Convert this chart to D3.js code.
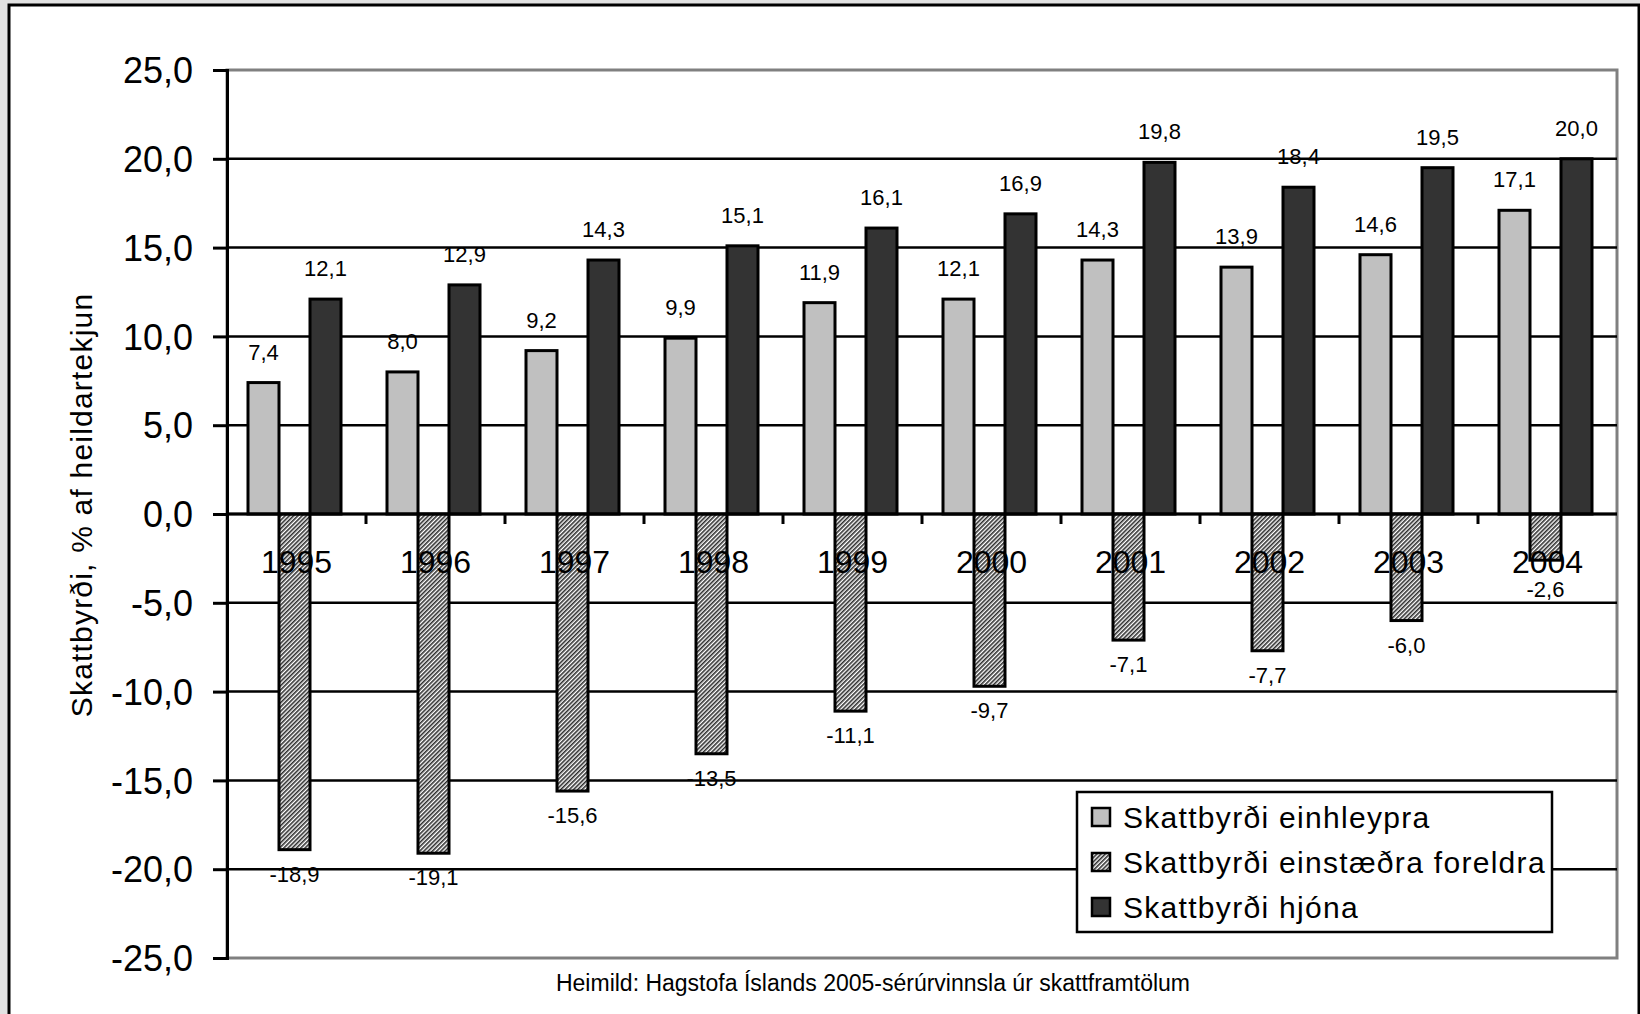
<!DOCTYPE html>
<html><head><meta charset="utf-8">
<script src="https://cdn.jsdelivr.net/npm/d3@7"></script>
<style>
html,body{margin:0;padding:0;background:#e2e2e2;overflow:hidden;}
svg{display:block;font-family:"Liberation Sans",Arial,sans-serif;}
</style></head><body>
<svg id="c" width="1640" height="1014"></svg>
<script>
const years = ["1995","1996","1997","1998","1999","2000","2001","2002","2003","2004"];
const seriesNames = ["Skattbyrði einhleypra","Skattbyrði einstæðra foreldra","Skattbyrði hjóna"];
const einhleypra = [7.4, 8.0, 9.2, 9.9, 11.9, 12.1, 14.3, 13.9, 14.6, 17.1];
const einstaedra = [-18.9, -19.1, -15.6, -13.5, -11.1, -9.7, -7.1, -7.7, -6.0, -2.6];
const hjona = [12.1, 12.9, 14.3, 15.1, 16.1, 16.9, 19.8, 18.4, 19.5, 20.0];
const yTicks = [25, 20, 15, 10, 5, 0, -5, -10, -15, -20, -25];
const yTitle = "Skattbyrði, % af heildartekjun";
const source = "Heimild: Hagstofa Íslands 2005-sérúrvinnsla úr skattframtölum";

const loc = d3.formatLocale({decimal:",", thousands:".", grouping:[3], currency:["",""], minus:"-"});
const f1 = loc.format(".1f");

const svg = d3.select("#c");
const defs = svg.append("defs");
const pat = defs.append("pattern").attr("id","hatch").attr("patternUnits","userSpaceOnUse")
  .attr("width",3).attr("height",3).attr("patternTransform","rotate(45)");
pat.append("rect").attr("width",3).attr("height",3).attr("fill","#ffffff");
pat.append("rect").attr("width",1.6).attr("height",3).attr("fill","#2e2e2e");

// outer frame
svg.append("rect").attr("x",9).attr("y",5).attr("width",1630).attr("height",1030)
  .attr("fill","#fff").attr("stroke","#000").attr("stroke-width",3);

const L=227, R=1617, T=70, B=958;
const y = d3.scaleLinear().domain([-25,25]).range([B,T]);
const x0 = d3.scaleBand().domain(years).range([L,R]).padding(0);
const x1 = d3.scaleBand().domain([0,1,2]).range([21,114]).padding(0);

// plot border (gray)
svg.append("rect").attr("x",L).attr("y",T).attr("width",R-L).attr("height",B-T)
  .attr("fill","none").attr("stroke","#808080").attr("stroke-width",3);

// gridlines
svg.append("g").selectAll("line").data(yTicks.filter(v=>v!==25 && v!==-25)).join("line")
  .attr("x1",L).attr("x2",R).attr("y1",d=>y(d)).attr("y2",d=>y(d))
  .attr("stroke","#000").attr("stroke-width",2.5);

// y axis
const yAxis = d3.axisLeft(y).tickValues(yTicks).tickFormat(f1).tickSize(14).tickPadding(20);
const ga = svg.append("g").attr("transform",`translate(${L},0)`).call(yAxis);
ga.select(".domain").attr("stroke","#000").attr("stroke-width",3);
ga.selectAll(".tick line").attr("stroke","#000").attr("stroke-width",3);
ga.selectAll(".tick text").attr("font-size",36).attr("fill","#000")
  .attr("font-family","'Liberation Sans',Arial,sans-serif").attr("dy","0.35em");

const data = years.map((yr,i)=>({yr, vals:[einhleypra[i], einstaedra[i], hjona[i]]}));
const fills = ["#c0c0c0","url(#hatch)","#333333"];

const groups = svg.append("g").selectAll("g").data(data).join("g")
  .attr("transform",d=>`translate(${x0(d.yr)},0)`);
groups.selectAll("rect").data(d=>d.vals.map((v,k)=>({v,k}))).join("rect")
  .attr("x",d=>x1(d.k)).attr("width",x1.bandwidth())
  .attr("y",d=>y(Math.max(0,d.v))).attr("height",d=>Math.abs(y(d.v)-y(0)))
  .attr("fill",d=>fills[d.k]).attr("stroke","#000").attr("stroke-width",3);

// x-axis line at zero and ticks
svg.append("line").attr("x1",L).attr("x2",R).attr("y1",y(0)).attr("y2",y(0))
  .attr("stroke","#000").attr("stroke-width",3);
const xAxis = d3.axisBottom(x0).tickSize(0).tickFormat(d=>d).tickPadding(0);
svg.append("g").selectAll("line").data(years.slice(1)).join("line")
  .attr("x1",d=>x0(d)).attr("x2",d=>x0(d)).attr("y1",y(0)).attr("y2",y(0)+10)
  .attr("stroke","#000").attr("stroke-width",3);
const gx = svg.append("g").attr("transform",`translate(0,${y(0)})`).call(xAxis);
gx.select(".domain").remove();
gx.selectAll(".tick text").attr("font-size",32).attr("fill","#000")
  .attr("font-family","'Liberation Sans',Arial,sans-serif").attr("y",59).attr("dy","0");

// value labels
groups.selectAll("text.v").data(d=>d.vals.map((v,k)=>({v,k}))).join("text")
  .attr("class","v")
  .attr("x",d=>x1(d.k)+x1.bandwidth()/2)
  .attr("y",d=>d.v>=0 ? y(d.v)-23 : Math.max(y(d.v)+32, y(0)+83))
  .attr("text-anchor","middle").attr("font-size",22).attr("fill","#000")
  .text(d=>f1(d.v));

// y title
svg.append("text").attr("transform","translate(92,505) rotate(-90)")
  .attr("text-anchor","middle").attr("font-size",30).attr("letter-spacing","1.2")
  .attr("fill","#000").text(yTitle);

// source
svg.append("text").attr("x",873).attr("y",991).attr("text-anchor","middle")
  .attr("font-size",23).attr("fill","#000").text(source);

// legend
const lg = svg.append("g");
lg.append("rect").attr("x",1077).attr("y",792).attr("width",475).attr("height",140)
  .attr("fill","#fff").attr("stroke","#000").attr("stroke-width",2.5);
const items = lg.selectAll("g").data(seriesNames).join("g")
  .attr("transform",(d,i)=>`translate(1092,${817+i*45})`);
items.append("rect").attr("x",0).attr("y",-9).attr("width",18).attr("height",18)
  .attr("fill",(d,i)=>fills[i]).attr("stroke","#000").attr("stroke-width",2.5);
items.append("text").attr("x",31).attr("y",0).attr("dy","0.36em")
  .attr("font-size",30).attr("letter-spacing","1.3").attr("fill","#000").text(d=>d);
</script></body></html>
